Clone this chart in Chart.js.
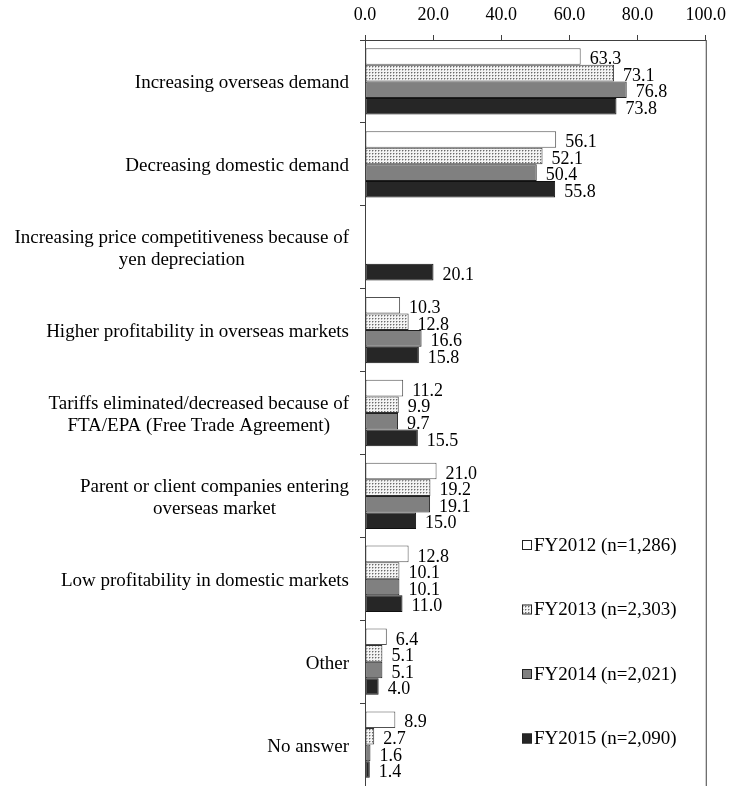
<!DOCTYPE html>
<html>
<head>
<meta charset="utf-8">
<script src="https://cdn.jsdelivr.net/npm/chart.js@4.4.0/dist/chart.umd.min.js"></script>
<style>
  body { margin: 0; background: #fff; }
  canvas { display: block; }
</style>
</head>
<body>
<canvas id="grafico" width="735" height="786"></canvas>
<script>
/* Dados do gráfico */
const categorias = [
  ["Increasing overseas demand"],
  ["Decreasing domestic demand"],
  ["Increasing price competitiveness because of", "yen depreciation"],
  ["Higher profitability in overseas markets"],
  ["Tariffs eliminated/decreased because of", "FTA/EPA (Free Trade Agreement)"],
  ["Parent or client companies entering", "overseas market"],
  ["Low profitability in domestic markets"],
  ["Other"],
  ["No answer"]
]
const series = ["FY2012 (n=1,286)", "FY2013 (n=2,303)", "FY2014 (n=2,021)", "FY2015 (n=2,090)"]
const fy2012 = [63.3, 56.1, null, 10.3, 11.2, 21.0, 12.8, 6.4, 8.9]
const fy2013 = [73.1, 52.1, null, 12.8, 9.9, 19.2, 10.1, 5.1, 2.7]
const fy2014 = [76.8, 50.4, null, 16.6, 9.7, 19.1, 10.1, 5.1, 1.6]
const fy2015 = [73.8, 55.8, 20.1, 15.8, 15.5, 15.0, 11.0, 4.0, 1.4]
const ticksX = [0, 20, 40, 60, 80, 100]

const fonte = "'Liberation Serif', 'Times New Roman', serif"
Chart.defaults.font.family = fonte
Chart.defaults.color = "#000"

/* Padrão pontilhado do FY2013 */
function criaPadrao(){
    const tile = document.createElement("canvas")
    tile.width = 3
    tile.height = 3
    const c = tile.getContext("2d")
    c.fillStyle = "#f4f4f4"
    c.fillRect(0, 0, 3, 3)
    c.fillStyle = "#6a6a6a"
    c.fillRect(0, 0, 1, 1)
    c.fillStyle = "#b8b8b8"
    c.fillRect(1, 0, 1, 1)
    c.fillRect(0, 1, 1, 1)
    return c.createPattern(tile, "repeat")
}
const pontilhado = criaPadrao()

/* Rótulos das categorias (linhas centralizadas, bloco alinhado à direita) */
const rotulosCategorias = {
  id: "rotulosCategorias",
  afterDraw(chart){
    const ctx = chart.ctx
    const y = chart.scales.y
    ctx.save()
    ctx.font = "19px " + fonte
    ctx.fillStyle = "#000"
    ctx.textAlign = "center"
    ctx.textBaseline = "middle"
    categorias.forEach((linhas, i) => {
      const centro = y.getPixelForValue(i) + 2
      const larg = Math.max(...linhas.map(l => ctx.measureText(l).width))
      const x = chart.chartArea.left - 16 - larg / 2
      const alt = 22
      linhas.forEach((l, k) => {
        ctx.fillText(l, x, centro + (k - (linhas.length - 1) / 2) * alt)
      })
    })
    ctx.restore()
  }
}

/* Valores ao lado das barras */
const valores = {
  id: "valores",
  afterDatasetsDraw(chart){
    const ctx = chart.ctx
    ctx.save()
    ctx.font = "18px " + fonte
    ctx.fillStyle = "#000"
    ctx.textAlign = "left"
    ctx.textBaseline = "middle"
    chart.data.datasets.forEach((ds, d) => {
      chart.getDatasetMeta(d).data.forEach((barra, i) => {
        const v = ds.data[i]
        if (v === null) return
        ctx.fillText(v.toFixed(1), barra.x + 9, barra.y + 3)
      })
    })
    ctx.restore()
  }
}

/* Legenda dentro da área do gráfico */
const legenda = {
  id: "legenda",
  afterDraw(chart){
    const ctx = chart.ctx
    const area = chart.chartArea
    ctx.save()
    ctx.font = "19px " + fonte
    ctx.textAlign = "left"
    ctx.textBaseline = "middle"
    chart.data.datasets.forEach((ds, d) => {
      const x = area.left + 157
      const y = area.top + 505 + d * 64.5
      ctx.fillStyle = ds.backgroundColor
      ctx.fillRect(x, y - 5, 10, 10)
      ctx.strokeStyle = "#222"
      ctx.lineWidth = 1
      ctx.strokeRect(x + 0.5, y - 4.5, 9, 9)
      ctx.fillStyle = "#000"
      ctx.fillText(ds.label, x + 12, y + 1)
    })
    ctx.restore()
  }
}

/* Moldura da área do gráfico */
const moldura = {
  id: "moldura",
  afterDatasetsDraw(chart){
    const ctx = chart.ctx
    const a = chart.chartArea
    ctx.save()
    ctx.strokeStyle = "#404040"
    ctx.lineWidth = 1
    ctx.strokeRect(a.left + 0.5, a.top + 0.5, a.right - a.left, a.bottom - a.top)
    ctx.restore()
  }
}

const cores = ["#ffffff", pontilhado, "#808080", "#262626"]
const bordas = ["#505050", "#303030", "#202020", "#101010"]
const dadosSeries = [fy2012, fy2013, fy2014, fy2015]

const grafico = new Chart(document.getElementById("grafico"), {
  type: "bar",
  data: {
    labels: categorias.map(l => l.join(" ")),
    datasets: dadosSeries.map((dados, d) => ({
      label: series[d],
      data: dados,
      backgroundColor: cores[d],
      borderColor: bordas[d],
      borderWidth: 1,
      borderSkipped: false,
      barPercentage: 1,
      categoryPercentage: 0.8
    }))
  },
  options: {
    indexAxis: "y",
    responsive: false,
    animation: false,
    layout: { padding: { top: 0, right: 23, bottom: 0, left: 0 } },
    plugins: {
      legend: { display: false },
      tooltip: { enabled: false }
    },
    scales: {
      x: {
        position: "top",
        min: 0,
        max: 100,
        afterBuildTicks: scale => { scale.ticks = ticksX.map(v => ({ value: v })) },
        ticks: {
          font: { size: 18 },
          padding: 9,
          maxRotation: 0,
          callback: v => Number(v).toFixed(1)
        },
        grid: { drawOnChartArea: false, tickLength: 5, color: "#404040" },
        border: { color: "#404040" },
        afterFit: scale => { scale.height = 40 }
      },
      y: {
        position: "left",
        ticks: { display: false },
        grid: { drawOnChartArea: false, tickLength: 5, color: "#404040", offset: true },
        border: { color: "#404040" },
        afterFit: scale => { scale.width = 365 }
      }
    }
  },
  plugins: [moldura, valores, rotulosCategorias, legenda]
})
</script>
</body>
</html>
